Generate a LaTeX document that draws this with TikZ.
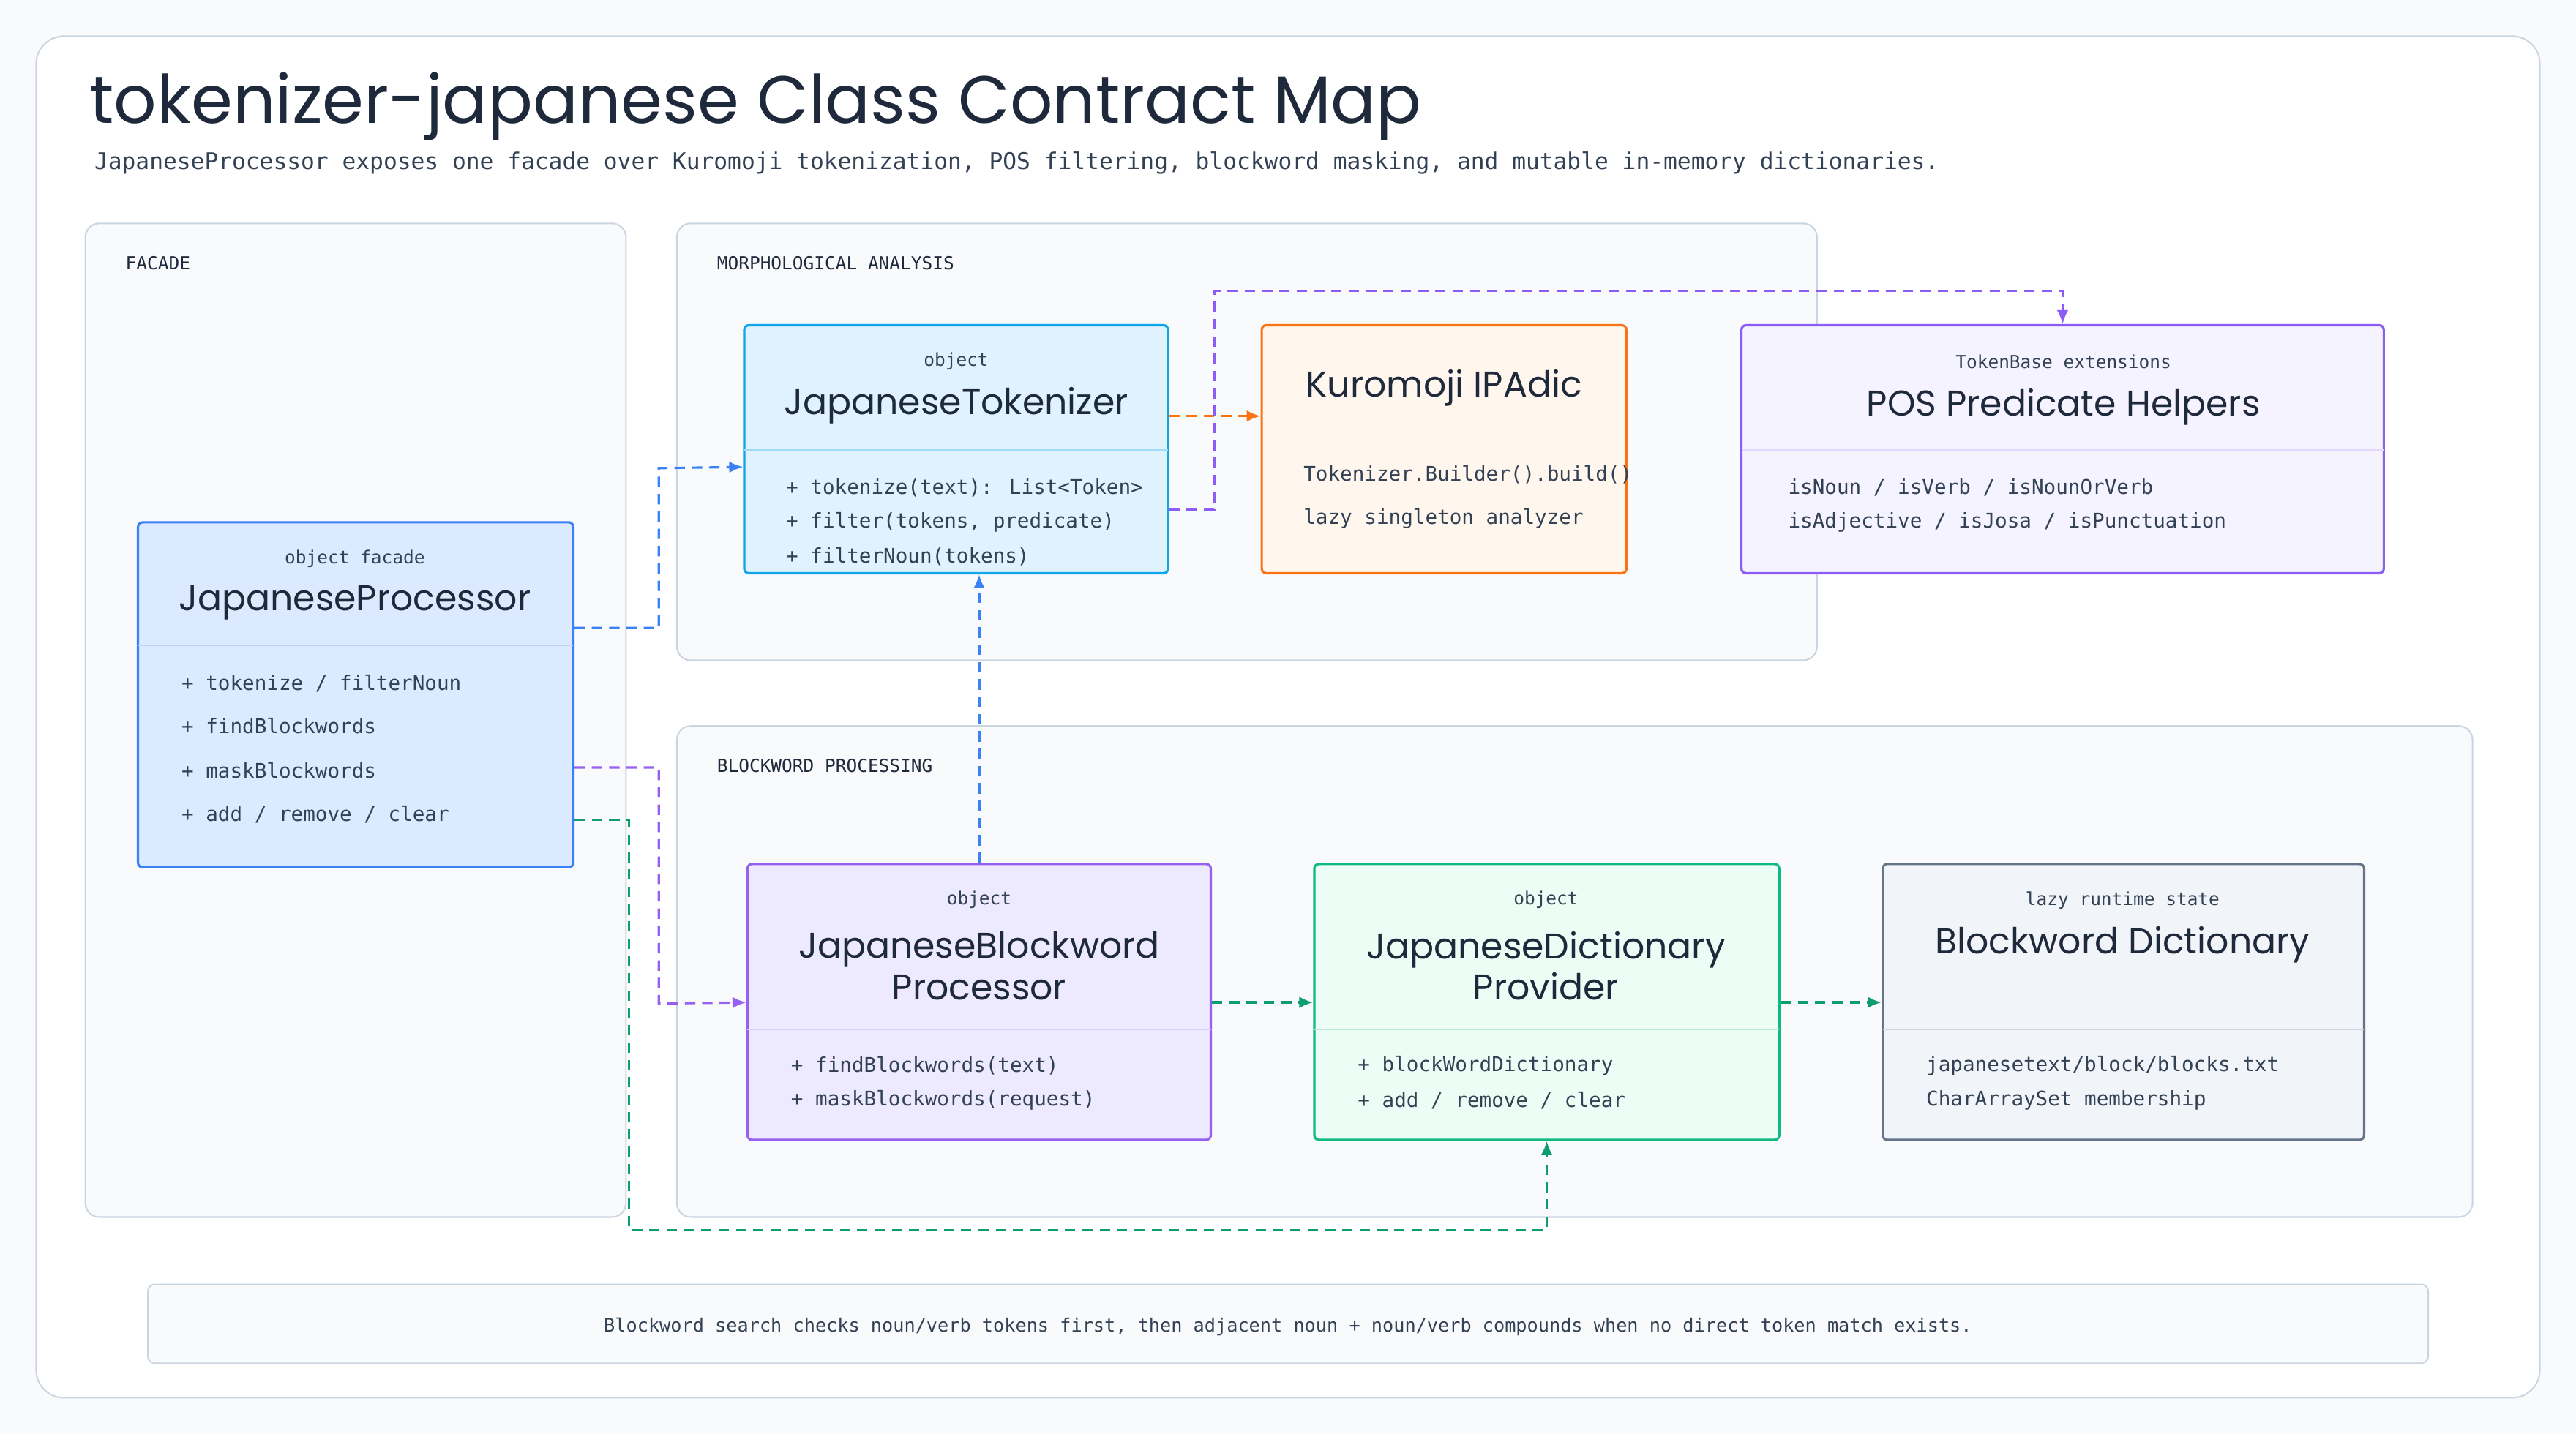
\documentclass[tikz,border=0pt]{standalone}
\usepackage{fontspec}
\setmainfont{Poppins}
\newfontfamily\monof{DejaVu Sans Mono}
\usetikzlibrary{calc,fit,positioning,arrows.meta}

\definecolor{ink}{HTML}{1E293B}
\definecolor{body}{HTML}{334155}
\definecolor{edge}{HTML}{CBD5E1}
\definecolor{pagebg}{HTML}{F8FAFC}
\definecolor{blueL}{HTML}{DBEAFE}\definecolor{blueD}{HTML}{3B82F6}
\definecolor{skyL}{HTML}{E0F2FE}\definecolor{skyD}{HTML}{0EA5E9}
\definecolor{orL}{HTML}{FFF7ED}\definecolor{orD}{HTML}{F97316}
\definecolor{vioL}{HTML}{F5F3FF}\definecolor{vioD}{HTML}{8B5CF6}
\definecolor{purL}{HTML}{EDE9FE}\definecolor{purD}{HTML}{7C3AED}
\definecolor{grL}{HTML}{ECFDF5}\definecolor{grD}{HTML}{10B981}
\definecolor{slL}{HTML}{F1F5F9}\definecolor{slD}{HTML}{64748B}

\tikzset{
  group/.style={draw=edge, fill=pagebg, rounded corners=12pt, line width=1.3pt, inner sep=0pt},
  box/.style={rounded corners=4pt, line width=2pt, inner sep=0pt},
  kind/.style={font=\monof\fontsize{15.5}{18}\selectfont, text=body},
  cname/.style={font=\fontsize{31}{36}\selectfont, text=ink, align=center},
  item/.style={font=\monof\fontsize{17.5}{20}\selectfont, text=body, anchor=west},
  glabel/.style={font=\monof\fontsize{15.5}{18}\selectfont, text=ink, anchor=west},
  link/.style={dash pattern=on 9pt off 6pt, line width=2pt, -{Latex[length=12pt,width=10pt]}},
  divider/.style={line width=1pt}
}

\begin{document}
\begin{tikzpicture}[x=0.05cm,y=-0.05cm]
\useasboundingbox (0,0) rectangle (1568,873);
\fill[pagebg] (0,0) rectangle (1568,873);
\draw[edge, fill=white, rounded corners=24pt, line width=1.3pt] (22,22) rectangle (1546,851);

% title
\node[anchor=base west, font=\fontsize{58}{62}\selectfont, text=ink] (title) at (52,75) {tokenizer-japanese Class Contract Map};
\node[anchor=base west, font=\monof\fontsize{19.8}{24}\selectfont, text=body] (subtitle) at (55,103) {JapaneseProcessor exposes one facade over Kuromoji tokenization, POS filtering, blockword masking, and mutable in-memory dictionaries.};

% groups
\node[group, fit={(52,136)(381,741)}] (facade) {};
\node[glabel] at (74,160) {FACADE};
\node[group, fit={(412,136)(1106,402)}] (morph) {};
\node[glabel] at (434,160) {MORPHOLOGICAL ANALYSIS};
\node[group, fit={(412,442)(1505,741)}] (block) {};
\node[glabel] at (434,466) {BLOCKWORD PROCESSING};

% facade
\node[box, draw=blueD, fill=blueL, fit={(84,318)(349,528)}] (jp) {};
\draw[divider, draw=blueD!35] (84,393) -- (349,393);
\node[kind] at (216,340) {object facade};
\node[cname] at (216,367) {JapaneseProcessor};
\node[item] at (108,416) {+ tokenize / filterNoun};
\node[item] at (108,442) {+ findBlockwords};
\node[item] at (108,469) {+ maskBlockwords};
\node[item] at (108,496) {+ add / remove / clear};

% tokenizer
\node[box, draw=skyD, fill=skyL, fit={(453,198)(711,349)}] (jt) {};
\draw[divider, draw=skyD!40] (453,274) -- (711,274);
\node[kind] at (582,220) {object};
\node[cname] at (582,247) {JapaneseTokenizer};
\node[item] at (476,297) {+ tokenize(text): List<Token>};
\node[item] at (476,318) {+ filter(tokens, predicate)};
\node[item] at (476,339) {+ filterNoun(tokens)};

% kuromoji
\node[box, draw=orD, fill=orL, fit={(768,198)(990,349)}] (kuro) {};
\node[cname] at (879,236) {Kuromoji IPAdic};
\node[item] at (791,289) {Tokenizer.Builder().build()};
\node[item] at (791,316) {lazy singleton analyzer};

% pos helpers
\node[box, draw=vioD, fill=vioL, fit={(1060,198)(1451,349)}] (pos) {};
\draw[divider, draw=vioD!25] (1060,274) -- (1451,274);
\node[kind] at (1256,220) {TokenBase extensions};
\node[cname] at (1256,248) {POS Predicate Helpers};
\node[item] at (1086,297) {isNoun / isVerb / isNounOrVerb};
\node[item] at (1086,318) {isAdjective / isJosa / isPunctuation};

% blockword processor
\node[box, draw=purD!80, fill=purL, fit={(455,526)(737,694)}] (jbp) {};
\draw[divider, draw=purD!25] (455,627) -- (737,627);
\node[kind] at (596,548) {object};
\node[cname] at (596,588) {JapaneseBlockword\\Processor};
\node[item] at (479,649) {+ findBlockwords(text)};
\node[item] at (479,670) {+ maskBlockwords(request)};

% dictionary provider
\node[box, draw=grD, fill=grL, fit={(800,526)(1083,694)}] (jdp) {};
\draw[divider, draw=grD!30] (800,627) -- (1083,627);
\node[kind] at (941,548) {object};
\node[cname] at (941,588) {JapaneseDictionary\\Provider};
\node[item] at (824,649) {+ blockWordDictionary};
\node[item] at (824,670) {+ add / remove / clear};

% blockword dictionary
\node[box, draw=slD, fill=slL, fit={(1146,526)(1439,694)}] (bd) {};
\draw[divider, draw=slD!30] (1146,627) -- (1439,627);
\node[kind] at (1292,548) {lazy runtime state};
\node[cname] at (1292,575) {Blockword Dictionary};
\node[item] at (1170,649) {japanesetext/block/blocks.txt};
\node[item] at (1170,670) {CharArraySet membership};

% footer
\node[draw=edge, fill=pagebg, rounded corners=6pt, line width=1.3pt, inner sep=0pt, fit={(90,782)(1478,830)}] (foot) {};
\node[font=\monof\fontsize{16}{20}\selectfont, text=body] at (784,808) {Blockword search checks noun/verb tokens first, then adjacent noun + noun/verb compounds when no direct token match exists.};

% connectors
\draw[link, blueD] ($(jp.north east)+(0,65)$) -| (401,285) -- ($(jt.north west)+(0,87)$);
\draw[link, orD] ($(jt.north east)+(0,56)$) -- ($(kuro.north west)+(0,56)$);
\draw[link, vioD] ($(jt.north east)+(0,113)$) -| (739,177) -| (pos.north);
\draw[link, purD!80] ($(jp.north east)+(0,150)$) -| (401,611) -- ($(jbp.north west)+(0,85)$);
\draw[link, grD!85!black] ($(jp.north east)+(0,182)$) -| (383,749) -| (jdp.south);
\draw[link, blueD] (jbp.north) -- (jbp.north |- jt.south);
\draw[link, grD!85!black] ($(jbp.north east)+(0,85)$) -- ($(jdp.north west)+(0,85)$);
\draw[link, grD!85!black] ($(jdp.north east)+(0,85)$) -- ($(bd.north west)+(0,85)$);
\end{tikzpicture}
\end{document}
